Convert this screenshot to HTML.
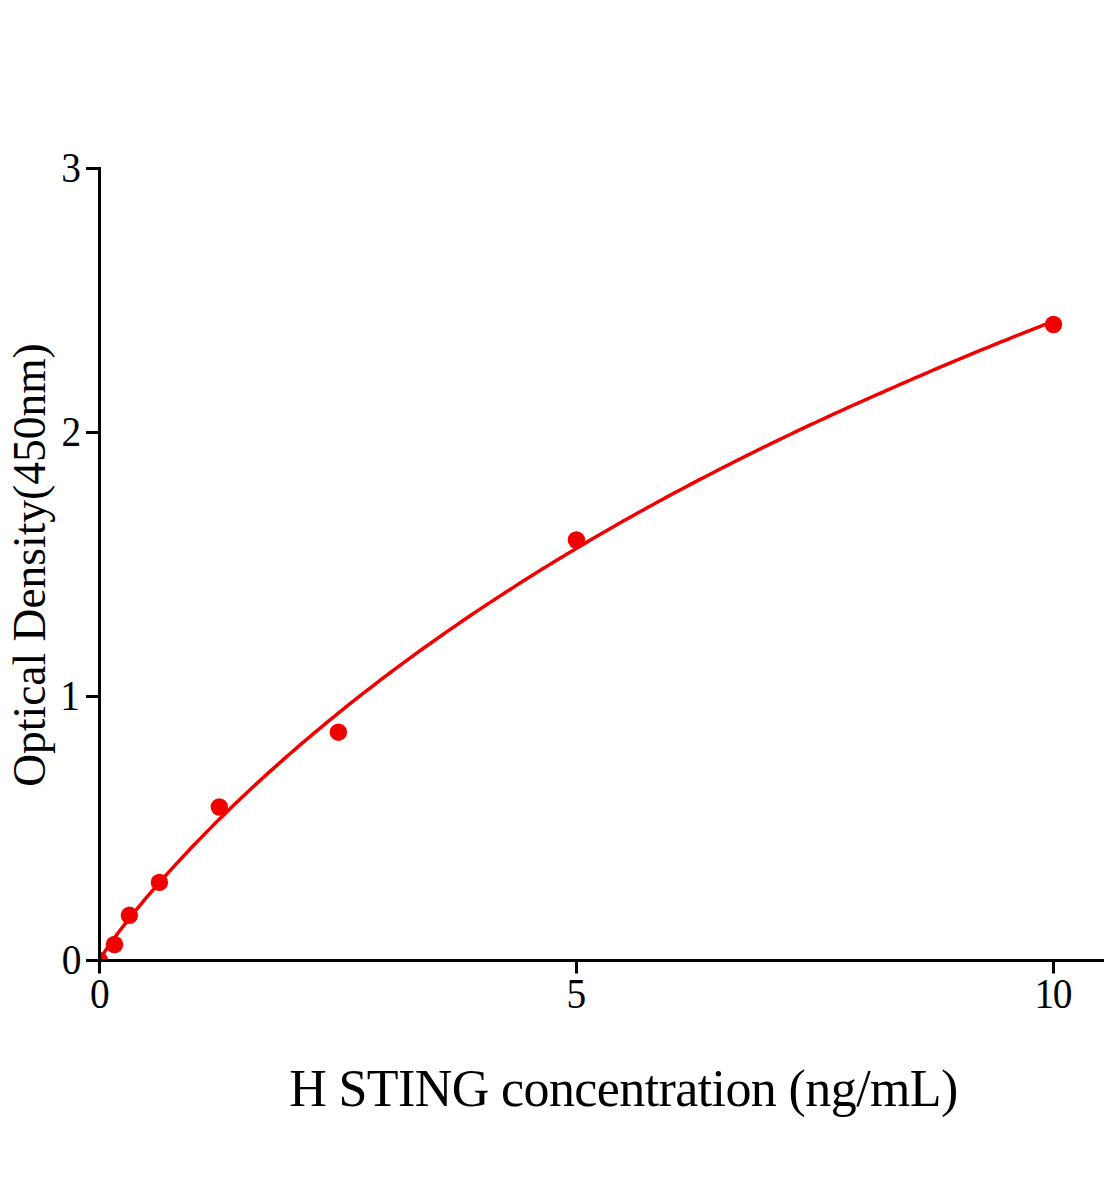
<!DOCTYPE html>
<html><head><meta charset="utf-8"><title>H STING standard curve</title>
<style>
html,body{margin:0;padding:0;background:#fff;}
svg{display:block;}
text{font-family:"Liberation Serif","Times New Roman",serif;fill:#000;}
</style></head>
<body>
<svg width="1104" height="1200" viewBox="0 0 1104 1200">
<rect width="1104" height="1200" fill="#fff"/>
<defs><clipPath id="plot"><rect x="99.5" y="0" width="1010" height="960.5"/></clipPath></defs>
<path d="M99.50,960.34 L101.41,956.90 L103.32,953.86 L105.22,950.96 L107.13,948.14 L109.04,945.39 L110.95,942.69 L112.86,940.04 L114.76,937.43 L116.67,934.85 L118.58,932.31 L120.49,929.79 L122.40,927.30 L124.30,924.83 L126.21,922.39 L128.12,919.97 L130.03,917.56 L131.94,915.18 L133.84,912.82 L135.75,910.47 L137.66,908.14 L139.57,905.82 L141.48,903.53 L143.38,901.24 L145.29,898.97 L147.20,896.72 L151.97,891.14 L156.74,885.64 L161.51,880.22 L166.28,874.86 L171.05,869.58 L175.82,864.36 L180.59,859.19 L185.36,854.09 L190.13,849.04 L194.90,844.05 L199.67,839.11 L204.44,834.22 L209.21,829.38 L213.98,824.59 L218.75,819.84 L223.52,815.14 L228.29,810.48 L233.06,805.86 L237.83,801.29 L242.60,796.75 L247.37,792.26 L252.14,787.80 L256.91,783.39 L261.68,779.00 L266.45,774.66 L271.22,770.35 L275.99,766.08 L280.76,761.84 L285.53,757.63 L290.30,753.46 L295.07,749.31 L299.84,745.20 L304.61,741.13 L309.38,737.08 L314.15,733.06 L318.92,729.07 L323.69,725.11 L328.46,721.18 L333.23,717.28 L338.00,713.41 L342.77,709.56 L347.54,705.74 L352.31,701.95 L357.08,698.18 L361.85,694.44 L366.62,690.73 L371.39,687.04 L376.16,683.37 L380.93,679.73 L385.70,676.12 L390.47,672.52 L395.24,668.95 L400.01,665.41 L404.78,661.89 L409.55,658.38 L414.32,654.91 L419.09,651.45 L423.86,648.02 L428.63,644.60 L433.40,641.21 L438.17,637.84 L442.94,634.49 L447.71,631.17 L452.48,627.86 L457.25,624.57 L462.02,621.30 L466.79,618.05 L471.56,614.82 L476.33,611.61 L481.10,608.42 L485.87,605.25 L490.64,602.09 L495.41,598.96 L500.18,595.84 L504.95,592.74 L509.72,589.66 L514.49,586.60 L519.26,583.55 L524.03,580.52 L528.80,577.51 L533.57,574.51 L538.34,571.53 L543.11,568.57 L547.88,565.62 L552.65,562.70 L557.42,559.78 L562.19,556.88 L566.96,554.00 L571.73,551.14 L576.50,548.29 L581.27,545.45 L586.04,542.63 L590.81,539.83 L595.58,537.04 L600.35,534.26 L605.12,531.50 L609.89,528.75 L614.66,526.02 L619.43,523.30 L624.20,520.60 L628.97,517.91 L633.74,515.23 L638.51,512.57 L643.28,509.92 L648.05,507.29 L652.82,504.67 L657.59,502.06 L662.36,499.46 L667.13,496.88 L671.90,494.31 L676.67,491.75 L681.44,489.21 L686.21,486.68 L690.98,484.16 L695.75,481.65 L700.52,479.16 L705.29,476.68 L710.06,474.21 L714.83,471.75 L719.60,469.30 L724.37,466.87 L729.14,464.44 L733.91,462.03 L738.68,459.63 L743.45,457.24 L748.22,454.87 L752.99,452.50 L757.76,450.15 L762.53,447.80 L767.30,445.47 L772.07,443.15 L776.84,440.84 L781.61,438.53 L786.38,436.24 L791.15,433.97 L795.92,431.70 L800.69,429.44 L805.46,427.19 L810.23,424.95 L815.00,422.72 L819.77,420.51 L824.54,418.30 L829.31,416.10 L834.08,413.91 L838.85,411.73 L843.62,409.56 L848.39,407.40 L853.16,405.25 L857.93,403.11 L862.70,400.98 L867.47,398.86 L872.24,396.75 L877.01,394.65 L881.78,392.55 L886.55,390.47 L891.32,388.38 L896.09,386.27 L900.86,384.17 L905.63,382.07 L910.40,379.99 L915.17,377.91 L919.94,375.85 L924.71,373.79 L929.48,371.74 L934.25,369.70 L939.02,367.67 L943.79,365.64 L948.56,363.62 L953.33,361.62 L958.10,359.62 L962.87,357.62 L967.64,355.64 L972.41,353.66 L977.18,351.70 L981.95,349.74 L986.72,347.78 L991.49,345.84 L996.26,343.90 L1001.03,341.97 L1005.80,340.05 L1010.57,338.14 L1015.34,336.23 L1020.11,334.33 L1024.88,332.44 L1029.65,330.56 L1034.42,328.68 L1039.19,326.81 L1043.96,324.95 L1048.73,323.10 L1053.50,321.25" fill="none" stroke="#f20000" stroke-width="3.5" stroke-linejoin="round"/>
<circle cx="99.5" cy="960.5" r="8.7" fill="#f20000" clip-path="url(#plot)"/>
<circle cx="114.5" cy="944.5" r="8.7" fill="#f20000"/>
<circle cx="129.4" cy="915.3" r="8.7" fill="#f20000"/>
<circle cx="159.4" cy="882.4" r="8.7" fill="#f20000"/>
<circle cx="219.3" cy="807.0" r="8.7" fill="#f20000"/>
<circle cx="338.4" cy="732.2" r="8.7" fill="#f20000"/>
<circle cx="576.4" cy="540.0" r="8.7" fill="#f20000"/>
<circle cx="1053.5" cy="324.5" r="8.7" fill="#f20000"/>
<g fill="#000">
<rect x="98" y="167" width="3" height="806.5"/>
<rect x="86" y="959" width="1018" height="3"/>
<rect x="86" y="167" width="13" height="3"/>
<rect x="86" y="431" width="13" height="3"/>
<rect x="86" y="695" width="13" height="3"/>
<rect x="575" y="960" width="3" height="13.5"/>
<rect x="1052" y="960" width="3" height="13.5"/>
</g>
<g font-size="41.5" text-anchor="end">
<text transform="translate(81,181.8) scale(0.95,1)">3</text>
<text transform="translate(81.3,445.8) scale(0.95,1)">2</text>
<text transform="translate(80,709.8) scale(0.95,1)">1</text>
<text transform="translate(81.5,973.8) scale(0.95,1)">0</text>
</g>
<g font-size="41.5" text-anchor="middle">
<text transform="translate(99.9,1008.3) scale(0.95,1)">0</text>
<text transform="translate(576.3,1008.3) scale(0.95,1)">5</text>
<text transform="translate(1052.7,1008.3) scale(0.95,1)" letter-spacing="-1.5">10</text>
</g>
<text font-size="52" x="289.2" y="1106" letter-spacing="-0.6">H STING concentration (ng/mL)</text>
<text font-size="45.5" transform="translate(45,565) rotate(-90)" text-anchor="middle">Optical Density(450nm)</text>
</svg>
</body></html>
